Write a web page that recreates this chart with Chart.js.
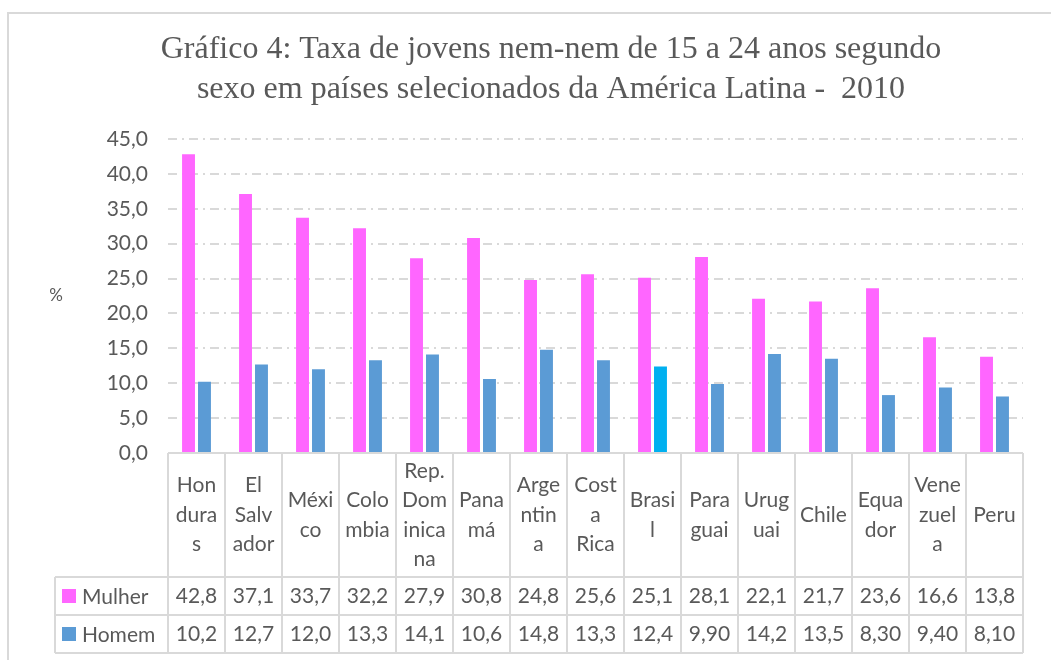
<!DOCTYPE html>
<html>
<head>
<meta charset="utf-8">
<script src="https://cdn.jsdelivr.net/npm/chart.js@4.4.0/dist/chart.umd.min.js"></script>
<style>
  html, body { margin: 0; padding: 0; background: #fff; }
  #wrap { width: 1051px; height: 660px; position: relative; }
</style>
</head>
<body>
<div id="wrap"><canvas id="nemChart"></canvas></div>
<script>
// categories as they wrap in the table cells
var categories = [
  ["Hon", "dura", "s"], ["El", "Salv", "ador"], ["Méxi", "co"], ["Colo", "mbia"],
  ["Rep.", "Dom", "inica", "na"], ["Pana", "má"], ["Arge", "ntin", "a"], ["Cost", "a", "Rica"],
  ["Brasi", "l"], ["Para", "guai"], ["Urug", "uai"], ["Chile"], ["Equa", "dor"],
  ["Vene", "zuel", "a"], ["Peru"]
];
var mulher = [42.8, 37.1, 33.7, 32.2, 27.9, 30.8, 24.8, 25.6, 25.1, 28.1, 22.1, 21.7, 23.6, 16.6, 13.8];
var homem = [10.2, 12.7, 12.0, 13.3, 14.1, 10.6, 14.8, 13.3, 12.4, 9.90, 14.2, 13.5, 8.30, 9.40, 8.10];
var yTicks = [0, 5, 10, 15, 20, 25, 30, 35, 40, 45];

const COLORS = {
  mulher: "#FF66FF",
  homem: "#5B9BD5",
  brasil: "#00B0F0",
  text: "#595959",
  line: "#D9D9D9"
};
const FONT = "Lato, 'Open Sans', sans-serif";

function fmt(v) {
  // Excel shows 3 significant digits
  return (v < 10 ? v.toFixed(2) : v.toFixed(1)).replace(".", ",");
}

var homemColors = categories.map(c => c.join("") === "Brasil" ? COLORS.brasil : COLORS.homem);

const tablePlugin = {
  id: "dataTable",
  beforeDraw(chart) {
    const ctx = chart.ctx;
    ctx.save();
    ctx.strokeStyle = COLORS.line;
    ctx.lineWidth = 2;
    ctx.beginPath();
    ctx.moveTo(8, chart.height);
    ctx.lineTo(8, 13);
    ctx.lineTo(chart.width, 13);
    ctx.stroke();
    ctx.restore();
  },
  afterDraw(chart) {
    const ctx = chart.ctx, area = chart.chartArea, xs = chart.scales.x;
    const n = categories.length;
    const colW = (area.right - area.left) / n;
    const top = area.bottom;
    const catBottom = top + 124;
    const row1 = catBottom + 38;
    const row2 = row1 + 38;
    const legLeft = 55;

    ctx.save();
    ctx.strokeStyle = COLORS.line;
    ctx.lineWidth = 2;
    ctx.beginPath();
    ctx.moveTo(area.left, top); ctx.lineTo(area.right, top);
    [catBottom, row1, row2].forEach(y => { ctx.moveTo(legLeft, y); ctx.lineTo(area.right, y); });
    for (let i = 0; i <= n; i++) {
      const bx = xs.getPixelForValue(i) - colW / 2;
      ctx.moveTo(bx, top); ctx.lineTo(bx, row2);
    }
    const rx = xs.getPixelForValue(n - 1) + colW / 2;
    ctx.moveTo(rx, top); ctx.lineTo(rx, row2);
    ctx.moveTo(legLeft, catBottom); ctx.lineTo(legLeft, row2);
    ctx.stroke();

    ctx.fillStyle = COLORS.text;
    ctx.font = "21px " + FONT;
    ctx.textAlign = "center";
    ctx.textBaseline = "middle";
    const lh = 29.5;
    const catMid = (top + catBottom) / 2;
    categories.forEach((lines, i) => {
      const cx = xs.getPixelForValue(i);
      const y0 = catMid - (lines.length - 1) * lh / 2;
      lines.forEach((t, k) => ctx.fillText(t, cx, y0 + k * lh));
      ctx.fillText(fmt(mulher[i]), cx, (catBottom + row1) / 2);
      ctx.fillText(fmt(homem[i]), cx, (row1 + row2) / 2);
    });

    // legend keys
    chart.data.datasets.forEach((ds, k) => {
      const my = k === 0 ? (catBottom + row1) / 2 : (row1 + row2) / 2;
      ctx.fillStyle = k === 0 ? COLORS.mulher : COLORS.homem;
      ctx.fillRect(legLeft + 7, my - 7, 14, 14);
      ctx.fillStyle = COLORS.text;
      ctx.textAlign = "left";
      ctx.fillText(ds.label, legLeft + 27, my + 1);
    });

    ctx.font = "17px " + FONT;
    ctx.textAlign = "center";
    ctx.fillText("%", 56, (area.top + area.bottom) / 2);
    ctx.restore();
  }
};

const chart = new Chart(document.getElementById("nemChart"), {
  type: "bar",
  data: {
    labels: categories,
    datasets: [
      {
        label: "Mulher",
        data: mulher,
        backgroundColor: COLORS.mulher,
        categoryPercentage: 0.56,
        barPercentage: 0.81
      },
      {
        label: "Homem",
        data: homem,
        backgroundColor: homemColors,
        categoryPercentage: 0.56,
        barPercentage: 0.81
      }
    ]
  },
  options: {
    responsive: true,
    maintainAspectRatio: false,
    animation: false,
    layout: { padding: { left: 79, right: 28, top: 0, bottom: 0 } },
    plugins: {
      legend: { display: false },
      tooltip: { enabled: false },
      title: {
        display: true,
        text: ["Gráfico 4: Taxa de jovens nem-nem de 15 a 24 anos segundo", "sexo em países selecionados da América Latina -  2010"],
        color: COLORS.text,
        font: { family: "'Liberation Serif', 'Times New Roman', serif", size: 32, weight: "normal", lineHeight: 1.25 },
        padding: { top: 30, bottom: 29 }
      }
    },
    scales: {
      x: {
        grid: { display: false, drawTicks: false },
        border: { display: false },
        ticks: { display: false },
        afterFit(scale) { scale.height = 207; }
      },
      y: {
        min: 0,
        max: 45,
        afterBuildTicks(scale) { scale.ticks = yTicks.map(v => ({ value: v })); },
        afterFit(scale) { scale.width = 89; },
        border: { display: false, dash: [9, 5, 2, 5] },
        grid: { color: COLORS.line, lineWidth: 2, drawTicks: false },
        ticks: {
          padding: 20,
          color: COLORS.text,
          font: { family: FONT, size: 21 },
          callback: v => v.toFixed(1).replace(".", ",")
        }
      }
    }
  },
  plugins: [tablePlugin]
});
</script>
</body>
</html>
